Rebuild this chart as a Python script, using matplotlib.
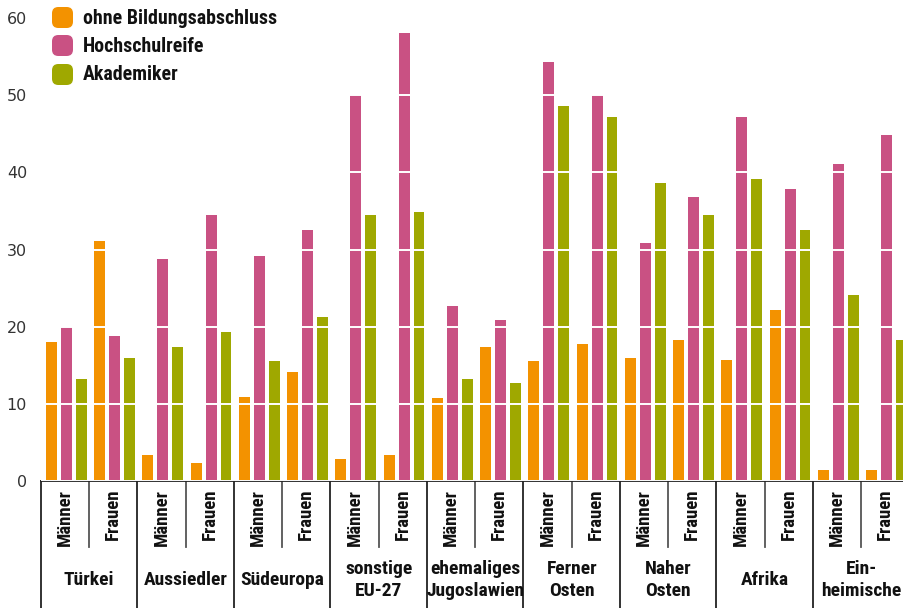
import matplotlib
matplotlib.use("Agg")
import matplotlib.pyplot as plt
import matplotlib.transforms as mtransforms
from matplotlib.patches import FancyBboxPatch
import numpy as np

plt.rcParams['font.family'] = ['Roboto Condensed', 'DejaVu Sans']
plt.rcParams['font.stretch'] = 'condensed'

groups = ["Türkei", "Aussiedler", "Südeuropa", "sonstige\nEU-27", "ehemaliges\nJugoslawien",
          "Ferner\nOsten", "Naher\nOsten", "Afrika", "Ein-\nheimische"]
genders = ["Männer", "Frauen"]
series = ["ohne Bildungsabschluss", "Hochschulreife", "Akademiker"]
colors = ["#F39200", "#C95183", "#9FA800"]

# one value per subgroup (group x gender), order: Männer, Frauen
ohne = [18.0, 31.1, 3.4, 2.3, 10.9, 14.1, 2.9, 3.4, 10.8, 17.4,
        15.5, 17.8, 16.0, 18.3, 15.7, 22.1, 1.4, 1.4]
hochschulreife = [20.0, 18.8, 28.8, 34.5, 29.1, 32.5, 50.0, 58.0, 22.7, 20.8,
                  54.3, 50.0, 30.8, 36.8, 47.2, 37.8, 41.1, 44.8]
akademiker = [13.2, 16.0, 17.4, 19.3, 15.5, 21.2, 34.5, 34.8, 13.2, 12.7,
              48.6, 47.2, 38.6, 34.5, 39.1, 32.5, 24.1, 18.3]

W, H = 904, 608
fig = plt.figure(figsize=(W / 100, H / 100), dpi=100)
ax_left, ax_bottom, ax_top = 41, 481, 18
ax = fig.add_axes([ax_left / W, (H - ax_bottom) / H, (W - ax_left) / W, (ax_bottom - ax_top) / H])

n = len(ohne)
x = np.arange(n) + 0.525
bw = 0.225
off = 0.31
for k, vals in enumerate([ohne, hochschulreife, akademiker]):
    ax.bar(x + (k - 1) * off, vals, width=bw, color=colors[k], zorder=1)

unit_px = 48.25
ax.set_xlim(0, (W - ax_left) / unit_px)
ax.set_ylim(0, 60)
ax.set_yticks(range(0, 61, 10))
ax.tick_params(axis='y', length=0, pad=10)
ax.set_yticklabels([str(v) for v in range(0, 61, 10)], family=['DejaVu Sans'],
                   fontstretch='normal', fontsize=11.5, color='#333333')
ax.set_xticks([])
ax.yaxis.grid(True, color='white', lw=1.4)
ax.set_axisbelow(False)
for s in ['top', 'right', 'left']:
    ax.spines[s].set_visible(False)
ax.spines['bottom'].set_color('#222222')
ax.spines['bottom'].set_linewidth(1.3)

trans = mtransforms.blended_transform_factory(ax.transData, ax.transAxes)
ax_h = ax_bottom - ax_top
fig_bottom = -(H - ax_bottom) / ax_h
minor_bottom = -(547 - ax_bottom) / ax_h

# separators
for g in range(len(groups) + 1):
    ax.plot([2 * g, 2 * g], [0, fig_bottom], transform=trans, color='#222222', lw=1.3, clip_on=False)
for g in range(len(groups)):
    ax.plot([2 * g + 1, 2 * g + 1], [0, minor_bottom], transform=trans, color='#555555', lw=1.3, clip_on=False)

# subgroup labels
lab_top = -(489 - ax_bottom) / ax_h
for i in range(n):
    ax.text(i + 0.5, lab_top, genders[i % 2], transform=trans, rotation=90, ha='center', va='top',
            fontsize=13.5, fontweight='bold', color='#111111')

# group labels
grp_y = -(580 - ax_bottom) / ax_h
for g, name in enumerate(groups):
    ax.text(2 * g + 1, grp_y, name, transform=trans, ha='center', va='center',
            fontsize=14, fontweight='bold', color='#111111', linespacing=1.25)

# legend
leg_y = [18, 46, 75]
for k, name in enumerate(series):
    cy = leg_y[k]
    box = FancyBboxPatch((52 / W, (H - cy - 10) / H), 21 / W, 21 / H,
                         boxstyle="round,pad=0,rounding_size=0.007",
                         transform=fig.transFigure, facecolor=colors[k], edgecolor='none',
                         mutation_aspect=W / H)
    fig.patches.append(box)
    fig.text(83 / W, (H - cy) / H, name, ha='left', va='center', fontsize=14.3,
             fontweight='bold', color='#111111')

fig.savefig("out.png", dpi=100)
